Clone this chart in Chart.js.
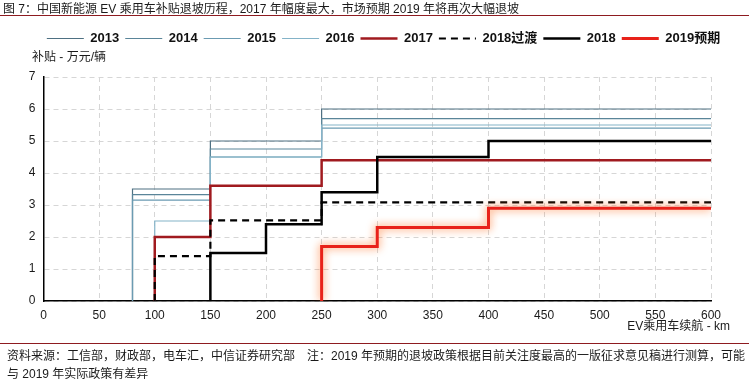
<!DOCTYPE html>
<html>
<head>
<meta charset="utf-8">
<script src="https://cdn.jsdelivr.net/npm/chart.js@4"></script>
<style>
  body { margin: 0; background: #fff; }
  #wrap { position: relative; width: 756px; height: 389px; overflow: hidden;
          font-family: 'Liberation Sans', 'Noto Sans CJK SC', sans-serif; color: #1a1a1a; }
  #subsidyChart { position: absolute; left: 0; top: 0; }
  .txt { position: absolute; font-size: 12px; line-height: 14px; white-space: nowrap; z-index: 2; }
  .rule { position: absolute; left: 0; width: 749px; height: 1px; background: #8e1b20; z-index: 2; }
</style>
</head>
<body>
<div id="wrap">
  <canvas id="subsidyChart" width="756" height="389"></canvas>
  <div class="txt" style="left:3px; top:2px;">图 7：中国新能源 EV 乘用车补贴退坡历程，2017 年幅度最大，市场预期 2019 年将再次大幅退坡</div>
  <div class="rule" style="top:15px;"></div>
  <div class="rule" style="top:343px;"></div>
  <div class="txt" style="left:7px; top:349px;">资料来源：工信部，财政部，电车汇，中信证券研究部　注：2019 年预期的退坡政策根据目前关注度最高的一版征求意见稿进行测算，可能</div>
  <div class="txt" style="left:7px; top:367px;">与 2019 年实际政策有差异</div>
</div>
<script>
// range bands (km) and subsidy per band (10k yuan / vehicle)
const rangeEnd = 600;

const starts2013 = [80, 150, 250];
const subsidy2013 = [3.5, 5, 6];
const starts2014 = [80, 150, 250];
const subsidy2014 = [3.325, 4.75, 5.7];
const starts2015 = [80, 150, 250];
const subsidy2015 = [3.15, 4.5, 5.4];
const starts2016 = [100, 150, 250];
const subsidy2016 = [2.5, 4.5, 5.5];
const starts2017 = [100, 150, 250];
const subsidy2017 = [2, 3.6, 4.4];
const starts2018t = [100, 150, 250];
const subsidy2018t = [1.4, 2.52, 3.08];
const starts2018 = [150, 200, 250, 300, 400];
const subsidy2018 = [1.5, 2.4, 3.4, 4.5, 5];
const starts2019 = [250, 300, 400];
const subsidy2019 = [1.7, 2.3, 2.9];

const seriesNames = ['2013', '2014', '2015', '2016', '2017', '2018过渡', '2018', '2019预期'];

const FONT = "'Liberation Sans', 'Noto Sans CJK SC', sans-serif";

// turn band starts + values into step vertices
function steps(starts, vals) {
  const pts = [{ x: starts[0], y: 0 }];
  starts.forEach((s, i) => {
    const next = i < starts.length - 1 ? starts[i + 1] : rangeEnd;
    pts.push({ x: s, y: vals[i] });
    pts.push({ x: next, y: vals[i] });
  });
  return pts;
}

function line(idx, pts, color, width, extra) {
  return Object.assign({
    label: seriesNames[idx],
    data: pts,
    borderColor: color,
    backgroundColor: color,
    borderWidth: width,
    pointRadius: 0,
    pointHoverRadius: 0,
    fill: false,
    tension: 0,
    order: 8 - idx
  }, extra || {});
}

const glow = {
  id: 'glow',
  beforeDatasetDraw(chart, args) {
    if (args.index === 7) {
      chart.ctx.save();
      chart.ctx.shadowColor = 'rgba(255, 110, 30, 0.95)';
      chart.ctx.shadowBlur = 9;
    }
  },
  afterDatasetDraw(chart, args) {
    if (args.index === 7) chart.ctx.restore();
  }
};

const axisTitles = {
  id: 'axisTitles',
  afterDraw(chart) {
    const ctx = chart.ctx;
    ctx.save();
    ctx.fillStyle = '#1a1a1a';
    ctx.font = '12px ' + FONT;
    ctx.textBaseline = 'middle';
    ctx.textAlign = 'left';
    ctx.fillText('补贴 - 万元/辆', 32, 58);
    ctx.textAlign = 'right';
    ctx.fillText('EV乘用车续航 - km', 730, 327);
    ctx.restore();
  }
};

new Chart(document.getElementById('subsidyChart'), {
  type: 'line',
  data: {
    datasets: [
      line(0, steps(starts2013, subsidy2013), '#4e7082', 1.2),
      line(1, steps(starts2014, subsidy2014), '#5a8599', 1.2),
      line(2, steps(starts2015, subsidy2015), '#6b9bb2', 1.2),
      line(3, steps(starts2016, subsidy2016), '#84b3c8', 1.2),
      line(4, steps(starts2017, subsidy2017), '#a01a1f', 2.5),
      line(5, steps(starts2018t, subsidy2018t), '#000000', 2.2, { borderDash: [7, 5] }),
      line(6, steps(starts2018, subsidy2018), '#000000', 2.5),
      line(7, steps(starts2019, subsidy2019), '#e8221a', 3)
    ]
  },
  options: {
    responsive: false,
    animation: false,
    events: [],
    layout: { padding: { top: 26, left: 11, right: 0, bottom: 59.6 } },
    plugins: {
      legend: {
        position: 'top',
        labels: {
          usePointStyle: true,
          pointStyle: 'line',
          pointStyleWidth: 37,
          padding: 6,
          color: '#111',
          font: { family: FONT, size: 13, weight: 'bold' },
          sort: (a, b) => a.datasetIndex - b.datasetIndex,
          generateLabels: chart =>
            Chart.defaults.plugins.legend.labels.generateLabels(chart).map(item => {
              const ds = chart.data.datasets[item.datasetIndex];
              item.lineDash = ds.borderDash || [];
              item.lineWidth = ds.borderWidth;
              return item;
            })
        }
      },
      tooltip: { enabled: false }
    },
    scales: {
      x: {
        type: 'linear',
        min: 0,
        max: 600,
        ticks: { stepSize: 50, padding: 7, color: '#1a1a1a', font: { family: FONT, size: 12 } },
        grid: { color: '#d6d6d6', drawTicks: false },
        border: { color: '#000', width: 1.5, dash: [5, 4] }
      },
      xTop: {
        type: 'linear',
        position: 'top',
        ticks: { display: false },
        grid: { display: false, drawTicks: false },
        border: { display: false },
        afterFit: s => { s.height = 22; }
      },
      y: {
        min: 0,
        max: 7,
        ticks: { stepSize: 1, padding: 8, color: '#1a1a1a', font: { family: FONT, size: 12 } },
        grid: { color: '#d6d6d6', drawTicks: false },
        border: { color: '#000', width: 1.5, dash: [5, 4] },
        afterFit: s => { s.width = 32.5; }
      },
      yRight: {
        position: 'right',
        ticks: { display: false },
        grid: { display: false, drawTicks: false },
        border: { display: false },
        afterFit: s => { s.width = 45; }
      }
    }
  },
  plugins: [glow, axisTitles]
});
</script>
</body>
</html>
